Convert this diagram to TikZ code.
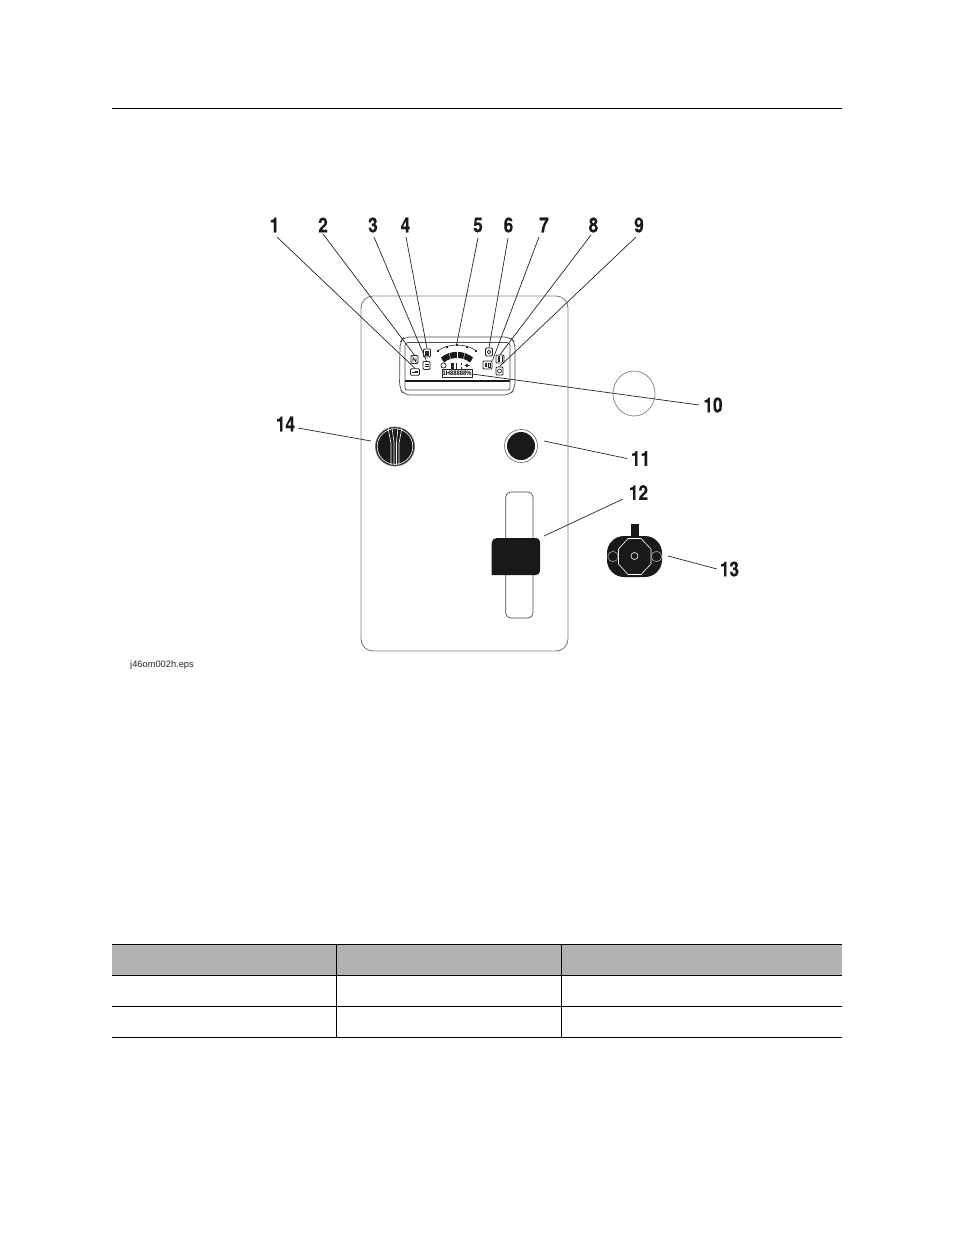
\documentclass[tikz,border=0pt]{standalone}
\usepackage{fontspec}
\setmainfont{Liberation Sans}
\newfontfamily\calloutfont[FakeBold=0.35]{TeX Gyre Heros Bold}
\begin{document}
\begin{tikzpicture}[x=1pt,y=-1pt,
  callout/.style={font=\calloutfont\fontsize{20.5}{21}\selectfont,text=black!90,inner sep=0pt,xscale=0.84},
  leader/.style={draw=black!85,line width=0.7pt},
  outline/.style={draw=black!50,line width=0.9pt},
  rule/.style={draw=black,line width=0.9pt},
  icon/.style={draw=black!85,line width=0.8pt,fill=white,rounded corners=1pt,minimum width=7pt,minimum height=8pt,inner sep=0pt},
  glyph/.style={draw=black!85,line width=0.7pt},
  whiteline/.style={draw=white,line width=0.6pt}]
\useasboundingbox (0,0) rectangle (954,1235);
\fill[white] (0,0) rectangle (954,1235);
% page rule
\draw[rule] (112,108.5) -- (842,108.5);
% table
\fill[black!30] (112,944.5) rectangle (842,975);
\draw[rule] (112,944.5) -- (842,944.5);
\draw[rule] (112,975.2) -- (842,975.2);
\draw[rule] (112,1006.3) -- (842,1006.3);
\draw[rule] (112,1037.3) -- (842,1037.3);
\draw[rule] (336.3,944.5) -- (336.3,1037.3);
\draw[rule] (561.3,944.5) -- (561.3,1037.3);
% panel
\draw[outline,rounded corners=12pt] (361,296) rectangle (568,651);
\draw[draw=black!50,line width=0.7pt] (634,393.5) ellipse (21 and 22.5);
% display frame
\draw[draw=black!70,line width=0.7pt,rounded corners=6pt] (400,342) -- (399.5,388) -- (404,395) -- (510,395) -- (515,388) -- (515,342) -- (510,337) -- (404,337) -- cycle;
\draw[draw=black!70,line width=0.7pt,rounded corners=3pt] (405,381) -- (405,342.5) -- (510,342.5) -- (510,381);
\draw[draw=black!90,line width=1.3pt] (405,381) -- (510,381);
\draw[draw=black!70,line width=0.7pt,rounded corners=2pt] (405,381) -- (405,390) -- (510,390) -- (510,381);
% gauge
\draw[draw=black!85,line width=0.6pt] (437.5,351) .. controls (448,343) and (466,343) .. (476.5,351);
\fill[black!90] (441,357.5) .. controls (450,350) and (464,350) .. (473,357.5) -- (470,362.5) .. controls (463,356.5) and (451,356.5) .. (444,362.5) -- cycle;
\draw[draw=white,line width=0.4pt] (457,351) -- (457,358);
\draw[draw=white,line width=0.4pt] (449,352.5) -- (450.5,359);
\draw[draw=white,line width=0.4pt] (465,352.5) -- (463.5,359);
\foreach \tx/\ty in {438/351,447/346.8,457/345,467/346.8,476/351}
  \fill[black!85] (\tx-0.7,\ty-0.9) rectangle (\tx+0.7,\ty+0.9);
% status row
\draw[glyph] (443.5,365.5) circle (2.6);
\fill[black!85] (451,362.5) rectangle (454,369);
\draw[glyph] (456,363) -- (456,368.5);
\draw[glyph] (461.5,363) -- (461.5,364.5) (461.5,366.5) -- (461.5,368.5);
\draw[glyph] (467,365.5) circle (1.3) (464.5,365.5) -- (469.5,365.5);
% LCD
\node[draw=black!85,line width=0.6pt,minimum width=30pt,minimum height=8.5pt,inner sep=0pt,font=\bfseries\fontsize{6.5}{6.5}\selectfont] (lcd) at (457,373.5) {\scalebox{0.9}[1]{1H88888\%}};
% buttons
\node[icon] (ic2) at (414.5,359.5) {};
\node[icon] (ic3) at (426.5,365.5) {};
\node[icon] (ic4) at (427,353) {};
\node[icon,minimum width=9pt,minimum height=6.5pt] (ic1) at (415,372) {};
\node[icon] (ic6) at (489,352) {};
\node[icon,minimum width=9pt] (ic7) at (487.5,365) {};
\node[icon,minimum width=8pt] (ic8) at (500,359) {};
\node[icon] (ic9) at (499.5,371) {};
\draw[glyph] (413,362) -- (413,357.5) -- (416,362) -- (416,357.5);
\fill[black!85] (425,350.5) rectangle (429,355.5);
\draw[glyph] (424.5,364.5) -- (428.5,364.5) (424.5,366.5) -- (428.5,366.5);
\draw[glyph] (412,372.8) -- (418,372.8) (414.5,371) -- (418,371);
\draw[glyph] (489,352) circle (1.8);
\fill[black!85] (484.8,363) rectangle (487.2,367);
\draw[glyph] (488,363) rectangle (490.4,367);
\fill[black!85] (497.6,356.3) rectangle (500.4,361.7);
\draw[glyph] (502,356.3) -- (502,361.7);
\draw[glyph] (499.5,371) circle (2);
% knob 14
\node[circle,draw=black!60,fill=black!90,line width=0.7pt,minimum size=39pt,inner sep=0pt] (knob) at (395,446.5) {};
\draw[whiteline] (395,446.5) circle (17.8);
\draw[whiteline] (388,428) -- (391,443) -- (391,465);
\draw[whiteline] (402,428) -- (399,443) -- (399,465);
\draw[whiteline] (392,428) -- (394,442) -- (394,465);
\draw[whiteline] (398,428) -- (396.5,442) -- (396.5,465);
% button 11
\node[circle,draw=black!55,fill=white,line width=0.7pt,minimum size=33pt,inner sep=0pt] (btn) at (521,446) {};
\node[circle,fill=black!90,minimum size=28pt,inner sep=0pt] (btnin) at (521,446) {};
% slider 12
\draw[draw=black!70,line width=0.7pt,rounded corners=5pt] (505.7,492) rectangle (533,618);
\fill[black!90] (491.7,575) -- (491.7,543) arc[start angle=180,end angle=270,radius=5] -- (536,538) arc[start angle=-90,end angle=0,radius=4] -- (540,571) arc[start angle=0,end angle=90,radius=4] -- cycle;
\coordinate (slider) at (544,536);
% switch 13
\fill[black!90] (631,524) rectangle (639,537);
\fill[black!90,rounded corners=17pt] (607,536) rectangle (662,577);
\draw[whiteline] (628,538.5) -- (641,538.5) -- (651,549) -- (651,564) -- (641,574.5) -- (628,574.5) -- (618.5,564) -- (618.5,549) -- cycle;
\draw[whiteline] (634.5,556) circle (3.5);
\draw[draw=black!35,fill=none,line width=0.6pt] (613,556.5) circle (5.2) (656.5,556.5) circle (5.2);
% callouts
\node[callout] (n1) at (274.5,225) {1};
\node[callout] (n2) at (323,225) {2};
\node[callout] (n3) at (373,225) {3};
\node[callout] (n4) at (405.5,225) {4};
\node[callout] (n5) at (478,225) {5};
\node[callout] (n6) at (508.5,225) {6};
\node[callout] (n7) at (544,225) {7};
\node[callout] (n8) at (593.5,225) {8};
\node[callout] (n9) at (639,225) {9};
\node[callout] (n10) at (713,405) {10};
\node[callout] (n11) at (640.5,458.5) {11};
\node[callout] (n12) at (638.5,492.5) {12};
\node[callout] (n13) at (729.5,569) {13};
\node[callout] (n14) at (285.5,424) {14};
% leader free ends
\coordinate (a1) at (277,237);
\coordinate (a2) at (323,234);
\coordinate (a3) at (374,237);
\coordinate (a4) at (406,237);
\coordinate (a5) at (478,238);
\coordinate (a6) at (508,238);
\coordinate (a7) at (539,237);
\coordinate (a8) at (591,235);
\coordinate (a9) at (636,237);
\coordinate (a10) at (699,405);
\coordinate (a11) at (627,458.5);
\coordinate (a12) at (623,499);
\coordinate (a13) at (717,569);
\coordinate (a14) at (298,428);
\coordinate (gaugetop) at (456.5,345);
\coordinate (lcdend) at (472,374);
\coordinate (btnend) at (544,441);
\coordinate (swend) at (668,556);
\coordinate (knobend) at (371,441);
\draw[leader] (a1) -- (ic1.north);
\draw[leader] (a2) -- (ic2.north);
\draw[leader] (a3) -- (ic3.north);
\draw[leader] (a4) -- (ic4.north);
\draw[leader] (a5) -- (gaugetop);
\draw[leader] (a6) -- (ic6.north);
\draw[leader] (a7) -- (ic7.north east);
\draw[leader] (a8) -- (ic8.north);
\draw[leader] (a9) -- (ic9.north);
\draw[leader] (a10) -- (lcdend);
\draw[leader] (a11) -- (btnend);
\draw[leader] (a12) -- (slider);
\draw[leader] (a13) -- (swend);
\draw[leader] (a14) -- (knobend);
% file name
\node[anchor=west,inner sep=0pt,font=\fontsize{9.3}{9.3}\selectfont,text=black!85] (fname) at (130,665.5) {j46om002h.eps};
\end{tikzpicture}
\end{document}
